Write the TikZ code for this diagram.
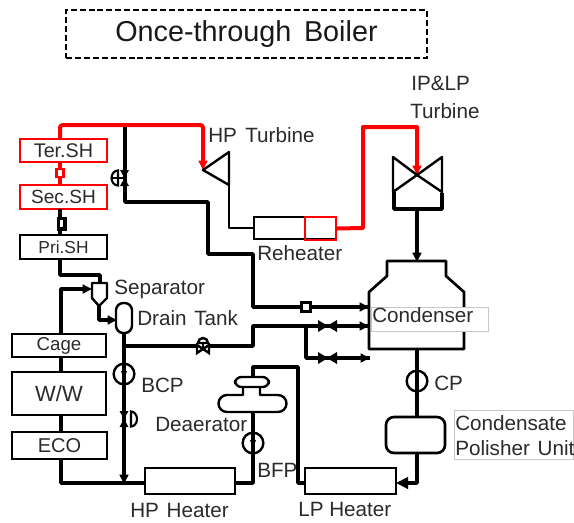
\documentclass[tikz,border=0pt]{standalone}
\usepackage{fontspec}
\setmainfont{Liberation Sans}
\usetikzlibrary{arrows.meta,calc}
\definecolor{txt}{HTML}{2B2B2B}
\definecolor{pipered}{HTML}{FF0000}
\tikzset{
  x=0.75pt,y=-0.75pt,
  lbl/.style={font=\fontsize{15.5pt}{18pt}\selectfont,text=txt,inner sep=0pt,anchor=base west},
  boxsty/.style={draw=black,line width=1.9pt,fill=white,text=txt,inner sep=0pt,outer sep=0pt},
  redbox/.style={boxsty,draw=pipered},
  blackline/.style={draw=black,line width=2.6pt,line join=round},
  thinline/.style={draw=black,line width=1.4pt,line join=round},
  redline/.style={draw=pipered,line width=3pt,line join=round},
  tip/.style={-{Triangle[length=7pt,width=6.5pt]}},
  pumpsty/.style={circle,draw=black,line width=1.8pt,minimum size=15.5pt,inner sep=0pt,outer sep=0pt},
  outline/.style={draw=black,line width=1.8pt,line join=round},
}
% name, x0, y0, x1, y1, style, text
\newcommand{\pxbox}[7]{\node[#6,minimum width={(#4-#2)*0.75pt},minimum height={(#5-#3)*0.75pt}] (#1) at ({(#2+#4)/2},{(#3+#5)/2}) {#7};}
\newcommand{\twotri}[2]{%
  \fill (#1-9,#2-6) -- (#1+1,#2) -- (#1-9,#2+6) -- cycle;
  \fill (#1+10,#2-6) -- (#1,#2) -- (#1+10,#2+6) -- cycle;}
\newcommand{\pumptri}[2]{\fill (#1-3,#2-3) -- (#1+3,#2-3) -- (#1,#2+5) -- cycle;}
\begin{document}
\begin{tikzpicture}
\path[use as bounding box,fill=white] (0,0) rectangle (574,522);
% title
\pxbox{title}{66}{10}{427}{58}{draw=black,line width=1.8pt,dash pattern=on 4.5pt off 2.2pt,inner sep=0pt,font=\fontsize{21.6pt}{25pt}\selectfont,text=black!90}{\raisebox{-2.5pt}{Once-through\hspace{3.5pt} Boiler}}

% junction coordinates
\coordinate (a) at (60,125);
\coordinate (b) at (125,125);
\coordinate (c) at (203,125);
\coordinate (hptip) at (203,170);
\coordinate (d) at (125,202);
\coordinate (e) at (208,202);
\coordinate (f) at (208,254);
\coordinate (g) at (253,254);
\coordinate (h) at (253,307);
\coordinate (inA) at (369,307);
\coordinate (inB) at (369,326);
\coordinate (inC) at (370,358);
\coordinate (k) at (253,326);
\coordinate (m) at (253,346);
\coordinate (n) at (124,346);
\coordinate (p) at (306,326);
\coordinate (q) at (306,358);
\coordinate (xl) at (61,0);
\coordinate (xc) at (417,0);

% boiler boxes
\pxbox{ter}{20}{139}{107}{162}{redbox,font=\fontsize{14.8pt}{16pt}\selectfont}{Ter.SH}
\pxbox{sec}{20}{185}{107}{209}{redbox,font=\fontsize{14.3pt}{16pt}\selectfont}{Sec.SH}
\pxbox{pri}{20}{235}{107}{259}{boxsty,font=\fontsize{13pt}{16pt}\selectfont}{Pri.SH}
\pxbox{cage}{12}{334}{106}{357}{boxsty,font=\fontsize{14pt}{16pt}\selectfont}{Cage}
\pxbox{ww}{12}{372}{106}{415}{boxsty,font=\fontsize{16.5pt}{18pt}\selectfont}{W/W}
\pxbox{eco}{12}{432}{107}{459}{boxsty,font=\fontsize{15pt}{18pt}\selectfont}{ECO}

% black piping
\draw[blackline] (b) -- (d) -- (e) -- (f) -- (g) -- (h) -- (inA);
\draw[blackline] (sec.south -| a) -- (pri.north -| a);
\draw[blackline] (pri.south -| a) -- (60,275) -- (100,275) -- (100,283);
\draw[blackline] (cage.south -| xl) -- (ww.north -| xl);
\draw[blackline] (ww.south -| xl) -- (eco.north -| xl);
\draw[blackline,tip] (cage.north -| xl) -- (61,289) -- (92,289);
\draw[blackline,tip] (99,306) -- (99,320) -- (117,320);
\draw[blackline] (124,333) -- (n) -- (m) -- (k) -- (inB);
\draw[blackline,tip] (345,326) -- (inB);
\draw[blackline] (p) -- (q) -- (inC);
\draw[blackline,tip] (345,358) -- (inC);
\draw[blackline,tip] (345,307) -- (inA);
\twotri{327}{326}
\twotri{327}{358}

% red piping
\draw[redline,rounded corners=2pt] (ter.north -| a) -- (a) -- (c) -- (203,160);
\draw[redline,tip] (203,150) -- (hptip);
\draw[redline] (ter.south -| a) -- (sec.north -| a);
\node[draw=pipered,line width=1.9pt,fill=white,minimum width=5pt,minimum height=6pt,inner sep=0pt] (sqr) at (60,173) {};
\node[draw=black,line width=2.5pt,fill=white,minimum width=5pt,minimum height=8pt,inner sep=0pt] (sqb) at (61.5,223.5) {};

% main-steam valve
\fill (120,170) -- (129,170) -- (124.5,178) -- cycle;
\fill (120,186) -- (129,186) -- (124.5,178) -- cycle;
\draw[line width=1.6pt,fill=white] (118,170.5) arc (270:90:6.5 and 7.5) -- cycle;
\draw[line width=1.2pt] (111.5,178) -- (124,178);

% HP turbine, reheater
\draw[outline,fill=white] (229,152) -- (hptip) -- (229,185) -- cycle;
\pxbox{rh}{254}{217}{336}{239}{boxsty,line width=1.7pt}{}
\draw[thinline] (229,185) -- (229,228) -- (rh.west);
\pxbox{rhr}{305}{217}{336}{240}{draw=pipered,line width=1.7pt}{}
\draw[redline] (rhr.east) -- (363,228) -- (363,127) -- (417,127) -- (417,160);
\coordinate (iptip) at (417,175);
\draw[redline,tip] (417,150) -- (iptip);

% IP&LP turbine
\draw[outline] (393,157) -- (393,192) -- (iptip) -- (442,192) -- (442,157) -- (iptip) -- cycle;
\draw[blackline] (394,192) -- (394,209) -- (442,209) -- (442,193);
\draw[blackline,tip] (417,209) -- (417,262);

% condenser
\draw[outline,line width=2pt,fill=white] (387,261) -- (446,261) -- (446,276) -- (464,292) -- (464,349) -- (369,349) -- (369,292) -- (387,276) -- cycle;
\pxbox{condl}{371}{307}{488}{331}{draw=black!22,line width=.5pt,fill=white,inner sep=0pt,outer sep=0pt}{}
\node[lbl] (condt) at (372,322) {Condenser};
\draw[line width=2pt] (369,300) -- (369,349);
\node[draw=black,line width=2.4pt,fill=white,minimum size=6.5pt,inner sep=0pt,outer sep=0pt] (sq) at (306,307) {};

% separator and drain tank
\draw[outline,fill=white] (92,283) -- (107,283) -- (107,298) -- (99,306) -- (92,298) -- cycle;
\draw[outline,fill=white,rounded corners=5.5pt] (116,303) rectangle (132,333);

% drain valve
\fill[white] (196,339) rectangle (210,353);
\draw[line width=1.8pt,fill=white] (197,345) -- (209,353) -- (209,345) -- (197,353) -- cycle;
\draw[line width=1.8pt,fill=white] (198,343) arc (180:360:5) -- cycle;
\draw[line width=1.6pt] (203,343) -- (203,349);

% lower left circuit
\pxbox{hph}{145}{468}{235}{494}{boxsty}{}
\pxbox{lph}{305}{468}{396}{494}{boxsty}{}
\draw[blackline] (eco.south -| xl) -- (61,483) -- (145,483);
\draw[blackline,tip] (124,346) -- (124,484);
\draw[blackline] (235,483) -- (253,483) -- (253,413);
\draw[blackline] (305,483) -- (298,483) -- (298,367) -- (253,367) -- (253,377);

% BCP pump and its valve
\node[pumpsty,fill=white] (bcp) at (124,374) {};
\draw[blackline] (bcp.north) -- (bcp.south);
\pumptri{124}{374}
\fill (119.5,411) -- (128.5,411) -- (124,419) -- cycle;
\fill (119.5,427) -- (128.5,427) -- (124,419) -- cycle;
\draw[line width=1.6pt,fill=white] (131,411.5) arc (-90:90:6 and 7.5) -- cycle;

% deaerator
\draw[outline,fill=white] (243,387) -- (243,395) -- (227,395) arc (270:90:8.5) -- (278,412) arc (90:-90:8.5) -- (260,395) -- (260,387);
\draw[outline,fill=white,rounded corners=4.8pt] (235,377) rectangle (269,387);
\node[pumpsty,fill=white] (bfp) at (253,443) {};
\draw[blackline] (253,413) -- (253,454);
\pumptri{253}{443}

% condensate line
\node[pumpsty,fill=white] (cp) at (417,381) {};
\pxbox{cpu}{386}{417}{445}{453}{boxsty,line width=2pt,rounded corners=6pt}{}
\draw[blackline] (417,349) -- (cpu.north -| xc);
\draw[blackline] (cpu.south -| xc) -- (417,483) -- (410,483);
\draw[blackline,-{Triangle[length=9pt,width=8.5pt]}] (410,483) -- (396,483);

% labels
\node[lbl] (tHP) at (208,142) {HP\hspace{2pt} Turbine};
\node[lbl] (tIP) at (411,90) {IP\&LP};
\node[lbl] (tTu) at (410,118) {Turbine};
\node[lbl] (tRe) at (257,260) {Reheater};
\node[lbl] (tSe) at (114,294) {Separator};
\node[lbl] (tDr) at (137,325) {Drain\hspace{1.5pt} Tank};
\node[lbl] (tBC) at (141,392) {BCP};
\node[lbl] (tDe) at (155,431) {Deaerator};
\node[lbl] (tBF) at (257,477) {BFP};
\node[lbl] (tHH) at (130,517) {HP\hspace{1.5pt} Heater};
\node[lbl] (tLH) at (298,516) {LP Heater};
\node[lbl] (tCP) at (434,390) {CP};
\pxbox{cpubox}{454.5}{410}{573.5}{459}{draw=black!22,line width=.5pt}{}
\node[lbl] (tCo) at (455,430) {Condensate};
\node[lbl] (tPo) at (455,455) {Polisher\hspace{1.5pt} Unit};
\end{tikzpicture}
\end{document}
